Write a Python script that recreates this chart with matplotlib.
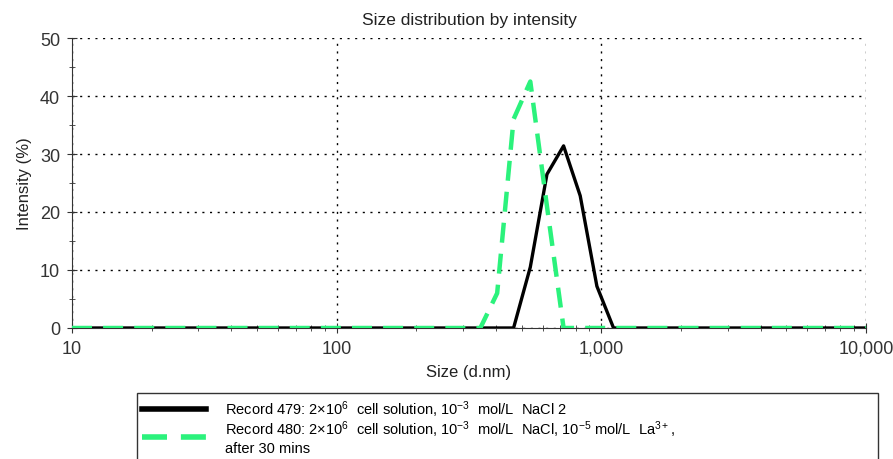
import matplotlib.pyplot as plt
from matplotlib.ticker import FixedLocator, FixedFormatter, MultipleLocator

plt.rcParams['font.family'] = ['Liberation Sans', 'DejaVu Sans']
plt.rcParams['mathtext.fontset'] = 'custom'
plt.rcParams['mathtext.rm'] = 'Liberation Sans'
plt.rcParams['mathtext.it'] = 'Liberation Sans'

# size bins (d.nm) and intensity (%)
sizes = [10, 349, 404, 466, 539, 623, 720, 832, 962, 1112, 10000]
record_479 = [0, 0, 0, 0, 10.5, 26.5, 31.4, 22.8, 7.2, 0, 0]
record_480 = [0, 0, 6.0, 36.0, 42.5, 21.0, 0, 0, 0, 0, 0]

x_ticks = [10, 100, 1000, 10000]
x_tick_labels = ["10", "100", "1,000", "10,000"]

label_479 = r"Record 479: 2$\times$10$^{6}$  cell solution, 10$^{-3}$  mol/L  NaCl 2"
label_480 = (r"Record 480: 2$\times$10$^{6}$  cell solution, 10$^{-3}$  mol/L  NaCl, "
             r"10$^{-5}$ mol/L  La$^{3+}$," "\nafter 30 mins")

fig = plt.figure(figsize=(8.93, 4.60), dpi=100)
ax = fig.add_axes([0.0806, 0.2848, 0.8892, 0.6304])

ax.plot(sizes, record_479, color="black", linewidth=2.4, label=label_479, zorder=3)
ax.plot(sizes, record_480, color="#2bf27c", linewidth=3.2, linestyle=(0, (4.5, 2.5)),
        label=label_480, zorder=4)

ax.set_xscale("log")
ax.set_xlim(10, 10000)
ax.set_ylim(0, 50)
ax.xaxis.set_major_locator(FixedLocator(x_ticks))
ax.xaxis.set_major_formatter(FixedFormatter(x_tick_labels))
ax.yaxis.set_major_locator(MultipleLocator(10))
ax.yaxis.set_minor_locator(MultipleLocator(5))

ax.grid(True, which="major", color="black", linestyle=(0, (1.5, 4)), linewidth=1.0)
ax.spines["top"].set_visible(False)
ax.spines["right"].set_visible(False)
ax.spines["left"].set_color("#333333")
ax.spines["bottom"].set_color("#333333")
ax.tick_params(which="both", direction="inout", labelsize=13, color="#333333",
               labelcolor="#333333")
ax.tick_params(which="major", length=7, pad=5)
ax.tick_params(which="minor", length=5)

ax.set_title("Size distribution by intensity", fontsize=12.5, pad=10, color="#222222")
ax.set_xlabel("Size (d.nm)", fontsize=12, labelpad=5, color="#222222")
ax.set_ylabel("Intensity (%)", fontsize=12, labelpad=6, color="#222222")

# wide legend box under the plot, its bottom edge runs off the image
leg = fig.legend(loc="upper left", bbox_to_anchor=(0.1534, -0.2, 0.83, 0.3435),
                 mode="expand", fontsize=10.5, frameon=True, fancybox=False,
                 handlelength=4.4, borderaxespad=0, labelspacing=0.0,
                 borderpad=0.35, handletextpad=1.3)
leg.get_frame().set_edgecolor("black")
leg.get_frame().set_linewidth(1.0)
for line in leg.get_lines():
    line.set_linewidth(4)

plt.savefig("out.png", dpi=100)
